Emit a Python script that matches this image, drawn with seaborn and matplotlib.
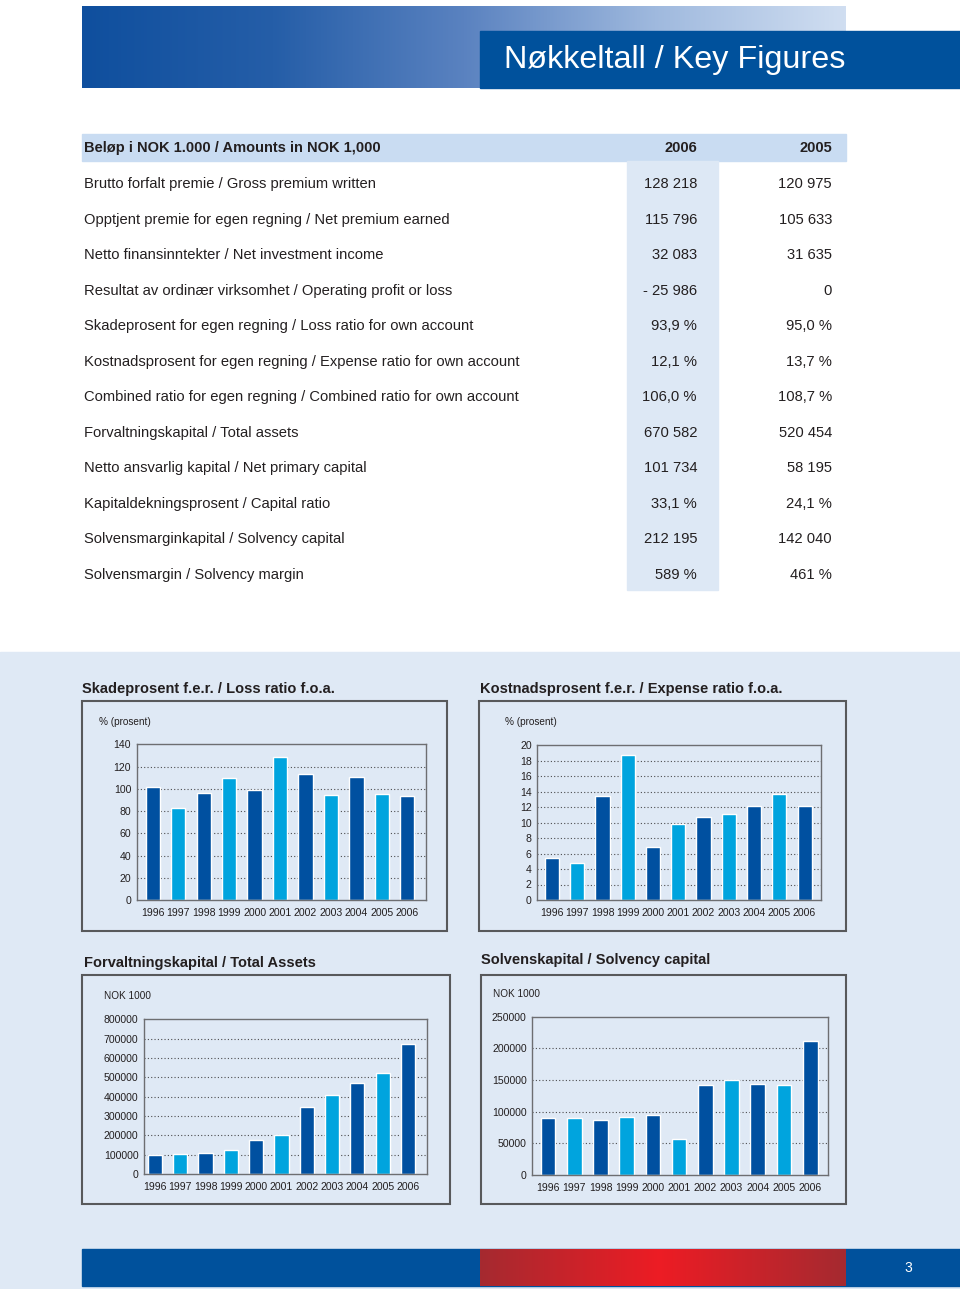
import numpy as np
import matplotlib
matplotlib.use("Agg")
import matplotlib.pyplot as plt
import seaborn as sns
from matplotlib import font_manager
from matplotlib.patches import Rectangle
from matplotlib.colors import LinearSegmentedColormap

# ---- data ----
years = ["1996", "1997", "1998", "1999", "2000", "2001", "2002", "2003", "2004", "2005", "2006"]
loss_ratio = [102, 83, 96, 109.5, 99, 128.5, 113, 94, 110.5, 95.0, 93.9]
expense_ratio = [5.4, 4.8, 13.4, 18.7, 6.9, 9.8, 10.7, 11.1, 12.1, 13.7, 12.1]
total_assets = [100000, 104000, 110000, 124000, 176000, 202000, 348000, 409000, 469000, 520454, 670582]
solvency_capital = [90500, 90500, 86800, 91600, 94200, 57400, 141600, 150000, 144200, 142040, 212195]

table_header = ["Beløp i NOK 1.000 / Amounts in NOK 1,000", "2006", "2005"]
row_labels = [
    "Brutto forfalt premie / Gross premium written",
    "Opptjent premie for egen regning / Net premium earned",
    "Netto finansinntekter / Net investment income",
    "Resultat av ordinær virksomhet / Operating profit or loss",
    "Skadeprosent for egen regning / Loss ratio for own account",
    "Kostnadsprosent for egen regning / Expense ratio for own account",
    "Combined ratio for egen regning / Combined ratio for own account",
    "Forvaltningskapital / Total assets",
    "Netto ansvarlig kapital / Net primary capital",
    "Kapitaldekningsprosent / Capital ratio",
    "Solvensmarginkapital / Solvency capital",
    "Solvensmargin / Solvency margin",
]
col_2006 = ["128 218", "115 796", "32 083", "- 25 986", "93,9 %", "12,1 %", "106,0 %",
            "670 582", "101 734", "33,1 %", "212 195", "589 %"]
col_2005 = ["120 975", "105 633", "31 635", "0", "95,0 %", "13,7 %", "108,7 %",
            "520 454", "58 195", "24,1 %", "142 040", "461 %"]

# ---- style ----
DARK = "#0050a0"
LIGHT = "#00a4de"
PAGE_BLUE = "#00519c"
PALE = "#dfe9f5"
HEAD = "#c9dcf2"
COL06 = "#dde8f5"
TXT = "#231f20"

sns.set_theme(style="white")
names = {f.name for f in font_manager.fontManager.ttflist}
MAIN = "Liberation Sans" if "Liberation Sans" in names else "DejaVu Sans"
plt.rcParams["font.family"] = [MAIN, "DejaVu Sans"]

W, H = 960, 1289
fig = plt.figure(figsize=(W / 100, H / 100), dpi=100)
bg = fig.add_axes([0, 0, 1, 1])
bg.set_xlim(0, W)
bg.set_ylim(H, 0)
bg.axis("off")

# header gradient band
grad = LinearSegmentedColormap.from_list("hdr", ["#0f4f9e", "#255ea8", "#5a82c0", "#9fb9de", "#d0def1"])
bg.imshow(np.linspace(0, 1, 256)[None, :], cmap=grad, aspect="auto",
          extent=(82, 846, 88, 6), zorder=1)
bg.add_patch(Rectangle((480, 31), 480, 57, color=PAGE_BLUE, zorder=2))
bg.text(845, 60, "Nøkkeltall / Key Figures", color="white", fontsize=23.3,
        ha="right", va="center", zorder=3)

# key figure table
bg.add_patch(Rectangle((82, 134), 764, 27, color=HEAD, zorder=1))
bg.add_patch(Rectangle((627, 161), 91, 429, color=COL06, zorder=1))
bg.text(84, 148, table_header[0], fontsize=10.5, fontweight="bold", color=TXT, va="center")
bg.text(697, 148, table_header[1], fontsize=10.5, fontweight="bold", color=TXT, va="center", ha="right")
bg.text(832, 148, table_header[2], fontsize=10.5, fontweight="bold", color=TXT, va="center", ha="right")
row_y = [184, 220, 255, 291, 326, 362, 397, 433, 468, 504, 539, 575]
for y, lab, v6, v5 in zip(row_y, row_labels, col_2006, col_2005):
    bg.text(84, y, lab, fontsize=10.6, color=TXT, va="center")
    bg.text(697, y, v6, fontsize=10.6, color=TXT, va="center", ha="right")
    bg.text(832, y, v5, fontsize=10.6, color=TXT, va="center", ha="right")

# lower pale section
bg.add_patch(Rectangle((0, 652), W, H - 652, color=PALE, zorder=0))

# footer
bg.add_patch(Rectangle((82, 1249), 878, 37, color=PAGE_BLUE, zorder=1))
red = LinearSegmentedColormap.from_list("red", [(0, "#a52a30"), (0.49, "#ed1c24"), (1, "#a52a30")])
bg.imshow(np.linspace(0, 1, 256)[None, :], cmap=red, aspect="auto",
          extent=(480, 846, 1286, 1249), zorder=2)
bg.text(908, 1268, "3", color="white", fontsize=10, ha="center", va="center", zorder=3)
bg.set_xlim(0, W)
bg.set_ylim(H, 0)

palette = {yr: (DARK if i % 2 == 0 else LIGHT) for i, yr in enumerate(years)}


def chart(box, title, title_xy, unit, unit_xy, rect, xlim, values, ymax, step):
    bx0, by0, bx1, by1 = box
    bg.add_patch(Rectangle((bx0, by0), bx1 - bx0, by1 - by0, facecolor=PALE,
                           edgecolor="#58595b", lw=1.5, zorder=2))
    bg.text(title_xy[0], title_xy[1], title, fontsize=10.5, fontweight="bold",
            color=TXT, va="center", zorder=3)
    bg.text(unit_xy[0], unit_xy[1], unit, fontsize=7.2, color=TXT,
            va="center", zorder=3)
    x0, y0, x1, y1 = rect
    ax = fig.add_axes([x0 / W, 1 - y1 / H, (x1 - x0) / W, (y1 - y0) / H])
    ax.set_facecolor(PALE)
    ticks = np.arange(0, ymax + step / 2, step)
    for t in ticks[1:-1]:
        ax.axhline(t, color="#4d4d4f", lw=0.8, ls=(0, (1, 2)), zorder=0)
    sns.barplot(x=years, y=values, hue=years, palette=palette, legend=False,
                width=0.56, saturation=1, ax=ax, zorder=2)
    ax.set_xlim(*xlim)
    ax.set_ylim(0, ymax)
    ax.set_yticks(ticks)
    ax.set_yticklabels([f"{int(t)}" for t in ticks])
    ax.tick_params(axis="both", length=0, labelsize=7.6, colors=TXT)
    ax.tick_params(axis="y", pad=4)
    ax.tick_params(axis="x", pad=6)
    for s in ax.spines.values():
        s.set_color("#6d6e71")
        s.set_linewidth(1)
    ax.set_xlabel("")
    ax.set_ylabel("")
    return ax


chart((82, 701, 447, 931), "Skadeprosent f.e.r. / Loss ratio f.o.a.", (82, 689),
      "% (prosent)", (99, 722), (136.7, 744.3, 425.7, 900), (-0.63, 10.72),
      loss_ratio, 140, 20)
chart((479, 701, 846, 931), "Kostnadsprosent f.e.r. / Expense ratio f.o.a.", (480, 689),
      "% (prosent)", (505, 722), (537.3, 745, 821.3, 900), (-0.58, 10.66),
      expense_ratio, 20, 2)
chart((82, 975, 450, 1204), "Forvaltningskapital / Total Assets", (84, 963),
      "NOK 1000", (104, 996), (144, 1019.3, 426.7, 1174), (-0.43, 10.74),
      total_assets, 800000, 100000)
chart((481, 975, 846, 1204), "Solvenskapital / Solvency capital", (481, 960),
      "NOK 1000", (493, 994), (532.3, 1016.7, 828.3, 1175), (-0.6, 10.69),
      solvency_capital, 250000, 50000)

fig.savefig("out.png", dpi=100)
